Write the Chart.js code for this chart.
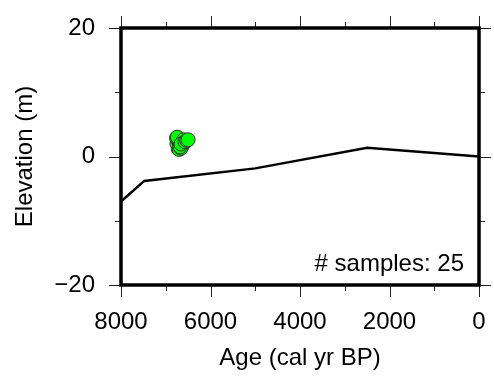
<!DOCTYPE html>
<html>
  <head>
    <title>Elevation vs age</title>
    <script src="https://cdn.jsdelivr.net/npm/chart.js"></script>
    <style>
      body { margin: 0; background: #fff; }
    </style>
  </head>
  <body>
    <canvas id="myChart" width="494" height="383"></canvas>
    <script>
      // sea level / reference curve
      var curveAge = [8000, 7480, 5000, 2500, 0];
      var curveElev = [-7.0, -3.8, -1.85, 1.35, 0.0];

      // sample ages (cal yr BP) and elevations (m)
      var sampleAge = [6720, 6690, 6750, 6640, 6700, 6660, 6680, 6610, 6730, 6650,
                       6700, 6620, 6760, 6670, 6590, 6710, 6640, 6680, 6550, 6740,
                       6600, 6660, 6570, 6530, 6500];
      var sampleElev = [1.2, 1.4, 2.0, 1.6, 1.1, 1.3, 2.4, 2.2, 2.6, 1.9,
                        2.1, 2.5, 2.9, 1.8, 2.3, 2.7, 2.0, 1.5, 2.4, 3.0,
                        2.6, 1.95, 2.3, 2.5, 2.6];

      var xTicks = [8000, 6000, 4000, 2000, 0];
      var yTicks = [-20, 0, 20];
      var sampleText = "# samples: " + sampleAge.length;

      Chart.defaults.font.family = "'Liberation Sans', Arial, Helvetica, sans-serif";
      Chart.defaults.color = "#000";

      var ctx = document.getElementById("myChart").getContext("2d");

      var framePlugin = {
        id: "frame",
        afterDraw: function (chart) {
          var c = chart.ctx;
          var a = chart.chartArea;
          var xs = chart.scales.x;
          var ys = chart.scales.y;
          c.save();
          c.strokeStyle = "#222";
          c.lineWidth = 1;
          // minor + major ticks on all four sides
          for (var v = 0; v <= 8000; v += 1000) {
            var px = Math.round(xs.getPixelForValue(v)) + 0.5;
            var len = (v % 2000 === 0) ? 12 : 6;
            c.beginPath();
            c.moveTo(px, a.bottom); c.lineTo(px, a.bottom + len);
            c.moveTo(px, a.top); c.lineTo(px, a.top - len);
            c.stroke();
          }
          for (var w = -20; w <= 20; w += 10) {
            var py = Math.round(ys.getPixelForValue(w)) + 0.5;
            var l2 = (w % 20 === 0) ? 12 : 6;
            c.beginPath();
            c.moveTo(a.left, py); c.lineTo(a.left - l2, py);
            c.moveTo(a.right, py); c.lineTo(a.right + l2, py);
            c.stroke();
          }
          c.strokeStyle = "#000";
          c.lineWidth = 3.5;
          c.strokeRect(a.left, a.top, a.right - a.left, a.bottom - a.top);
          c.fillStyle = "#000";
          c.font = "24px 'Liberation Sans', Arial, sans-serif";
          c.textAlign = "right";
          c.textBaseline = "alphabetic";
          c.fillText(sampleText, a.right - 15, a.bottom - 14);
          c.restore();
        }
      };

      var myChart = new Chart(ctx, {
        type: "scatter",
        data: {
          datasets: [
            {
              type: "line",
              label: "curve",
              data: curveAge.map(function (x, i) { return { x: x, y: curveElev[i] }; }),
              borderColor: "#000",
              borderWidth: 2.5,
              pointRadius: 0,
              fill: false,
              tension: 0,
              order: 2
            },
            {
              label: "samples",
              data: sampleAge.map(function (x, i) { return { x: x, y: sampleElev[i] }; }),
              backgroundColor: "#00ff00",
              borderColor: "#333",
              borderWidth: 1,
              pointRadius: 7,
              order: 1
            }
          ]
        },
        options: {
          responsive: false,
          animation: false,
          layout: { padding: { top: 28, right: 15, left: 0, bottom: 0 } },
          plugins: { legend: { display: false }, tooltip: { enabled: false } },
          scales: {
            x: {
              type: "linear",
              reverse: true,
              min: 0,
              max: 8000,
              afterBuildTicks: function (s) { s.ticks = xTicks.map(function (v) { return { value: v }; }); },
              afterFit: function (s) { s.height = 98; s.paddingLeft = 0; s.paddingRight = 0; },
              grid: { display: false },
              border: { display: false },
              ticks: { font: { size: 24 }, padding: 15, color: "#000", maxRotation: 0,
                        callback: function (v) { return String(v); } },
              title: { display: true, text: "Age (cal yr BP)", font: { size: 24 },
                       color: "#000", padding: { top: 0, bottom: 10 } }
            },
            y: {
              min: -20,
              max: 20,
              afterBuildTicks: function (s) { s.ticks = yTicks.map(function (v) { return { value: v }; }); },
              afterFit: function (s) { s.width = 121; s.paddingTop = 0; s.paddingBottom = 0; },
              grid: { display: false },
              border: { display: false },
              ticks: { font: { size: 24 }, padding: 18, color: "#000",
                        callback: function (v) { return v < 0 ? "\u2212" + Math.abs(v) : String(v); } },
              title: { display: true, text: "Elevation (m)", font: { size: 24 },
                       color: "#000", padding: { top: 11, bottom: 0 } }
            }
          }
        },
        plugins: [framePlugin]
      });
    </script>
  </body>
</html>
